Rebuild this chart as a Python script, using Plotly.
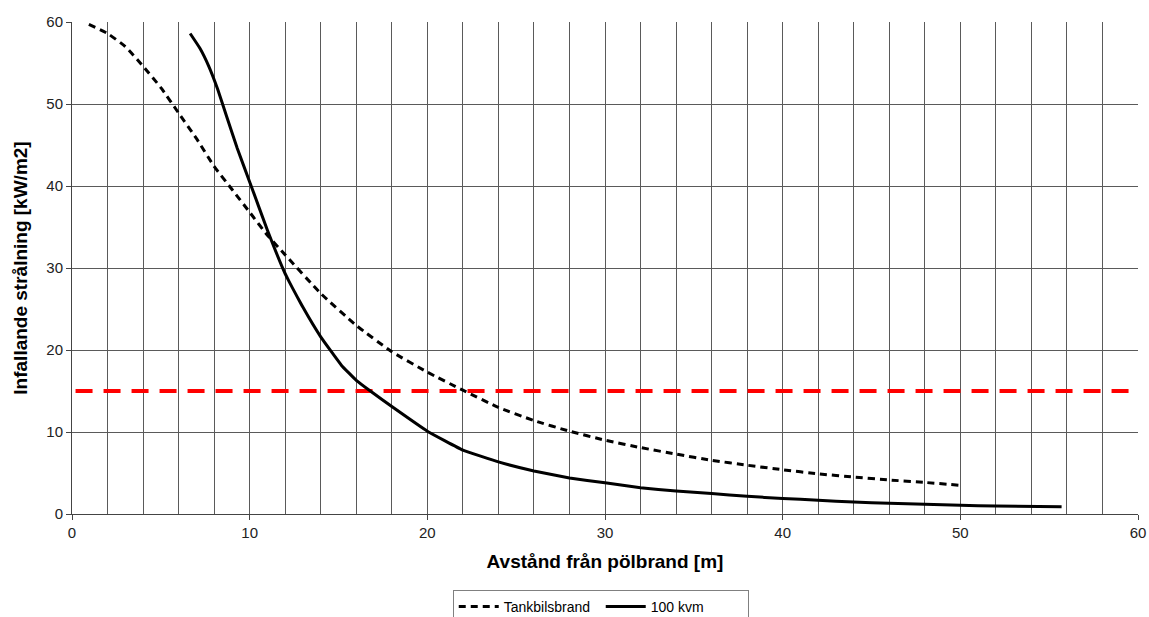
import plotly.graph_objects as go

# Tankbilsbrand (dashed)
tank_x = [0.95, 2, 3, 4, 5, 6, 7, 8, 9, 10, 11, 12, 14, 16, 18, 20, 22, 24, 26, 28,
          30, 32, 34, 36, 38, 40, 42, 44, 46, 48, 50]
tank_y = [59.7, 58.6, 57.0, 54.6, 52.0, 48.9, 45.8, 42.4, 39.6, 36.8, 34.0, 31.6, 26.9,
          23.0, 19.8, 17.3, 15.1, 13.0, 11.4, 10.1, 9.0, 8.1, 7.3, 6.55, 5.95, 5.4,
          4.9, 4.5, 4.15, 3.85, 3.5]

# 100 kvm (solid)
kvm_x = [6.65, 7.2, 7.7, 8.2, 8.7, 9.3, 10, 11, 12, 13, 14, 15.16, 16, 16.85, 18, 20,
         22, 24, 26, 28, 30, 32, 34, 36, 38, 40, 42, 44, 46, 48, 50, 52, 55.7]
kvm_y = [58.6, 56.8, 54.6, 51.8, 48.5, 44.6, 40.5, 34.6, 29.3, 25.2, 21.6, 18.15, 16.3,
         14.9, 13.1, 10.1, 7.8, 6.35, 5.25, 4.4, 3.8, 3.2, 2.8, 2.5, 2.15, 1.9, 1.67,
         1.47, 1.3, 1.18, 1.06, 0.98, 0.88]

# Limit line (15 kW/m2)
limit_x = [0.2, 59.5]
limit_y = [15, 15]

x_ticks = [0, 10, 20, 30, 40, 50, 60]
y_ticks = [0, 10, 20, 30, 40, 50, 60]

FONT = "Liberation Sans, Arial, sans-serif"

fig = go.Figure()
fig.add_trace(go.Scatter(
    x=limit_x, y=limit_y, mode="lines", showlegend=False,
    line=dict(color="#ff0000", width=4, dash="17px,11px"), hoverinfo="skip"))
fig.add_trace(go.Scatter(
    x=tank_x, y=tank_y, mode="lines", name="Tankbilsbrand",
    line=dict(color="black", width=3, dash="7px,5px", shape="spline", smoothing=0.5)))
fig.add_trace(go.Scatter(
    x=kvm_x, y=kvm_y, mode="lines", name="100 kvm",
    line=dict(color="black", width=3, shape="spline", smoothing=0.3)))

fig.update_layout(
    width=1149, height=617,
    margin=dict(l=72, r=11, t=22, b=103),
    paper_bgcolor="white", plot_bgcolor="white",
    font=dict(family=FONT, size=15, color="#222"),
    showlegend=True,
    legend=dict(
        orientation="h", x=0.496, xanchor="center",
        yref="container", y=0.0438, yanchor="top",
        bordercolor="#808080", borderwidth=1, bgcolor="white",
        font=dict(family=FONT, size=14, color="black"),
        itemwidth=40, tracegroupgap=0,
        entrywidth=92, entrywidthmode="pixels",
    ),
)

fig.update_xaxes(
    range=[0, 60], tickvals=x_ticks, ticks="outside", ticklen=5, tickcolor="#444",
    showline=True, linecolor="#444", linewidth=1, automargin=False,
    ticklabeloverflow="allow",
    showgrid=True, gridcolor="#5a5a5a", gridwidth=1,
    minor=dict(dtick=2, showgrid=True, gridcolor="#5a5a5a", gridwidth=1),
    zeroline=False,
    tickfont=dict(family=FONT, size=15, color="#222"),
    title=dict(text="<b>Avstånd från pölbrand [m]</b>",
               font=dict(family=FONT, size=19, color="black"), standoff=14),
)
fig.update_yaxes(
    range=[0, 60], tickvals=y_ticks, ticks="outside", ticklen=5, tickcolor="#444",
    showline=True, linecolor="#444", linewidth=1, automargin=False,
    ticklabeloverflow="allow",
    showgrid=True, gridcolor="#5a5a5a", gridwidth=1,
    zeroline=False,
    tickfont=dict(family=FONT, size=15, color="#222"),
    title=dict(text="<b>Infallande strålning [kW/m2]</b>",
               font=dict(family=FONT, size=19, color="black"), standoff=13),
)

fig.write_html("out.html",
               config={"displayModeBar": False},
               post_script="document.body.style.margin='0';"
                           "document.body.style.overflow='hidden';")
